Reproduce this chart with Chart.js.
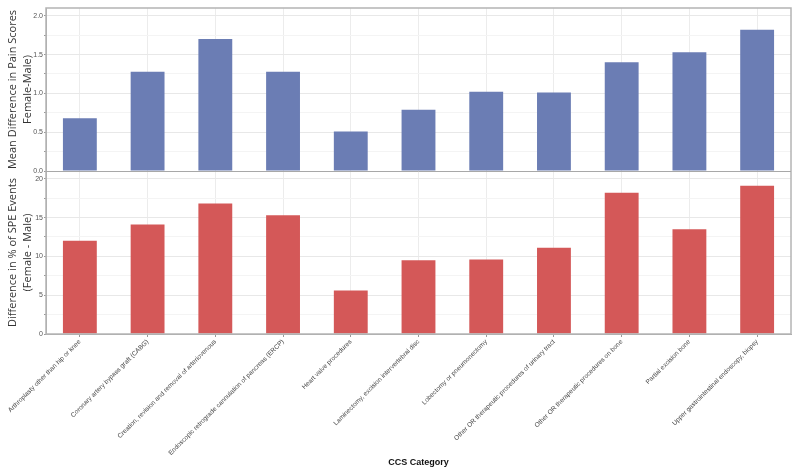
<!DOCTYPE html>
<html>
<head>
<meta charset="utf-8">
<script src="https://cdn.jsdelivr.net/npm/chart.js@4.4.1/dist/chart.umd.min.js"></script>
<style>
  html, body { margin: 0; padding: 0; background: #fff; }
  #wrap { width: 800px; height: 475px; }
</style>
</head>
<body>
<div id="wrap"><canvas id="myChart"></canvas></div>
<script>
// Data
const categories = [
  'Arthroplasty other than hip or knee',
  'Coronary artery bypass graft (CABG)',
  'Creation, revision and removal of arteriovenous',
  'Endoscopic retrograde cannulation of pancreas (ERCP)',
  'Heart valve procedures',
  'Laminectomy, excision intervertebral disc',
  'Lobectomy or pneumonectomy',
  'Other OR therapeutic procedures of urinary tract',
  'Other OR therapeutic procedures on bone',
  'Partial excision bone',
  'Upper gastrointestinal endoscopy, biopsy'
];
const painDiff = [0.68, 1.28, 1.70, 1.28, 0.51, 0.79, 1.02, 1.01, 1.40, 1.53, 1.82];
const speDiff = [12.0, 14.1, 16.8, 15.3, 5.6, 9.5, 9.6, 11.1, 18.2, 13.5, 19.1];
const painTicks = [0, 0.5, 1.0, 1.5, 2.0];
const speTicks = [0, 5, 10, 15, 20];

const tickFont = { family: 'Liberation Sans, Arial, sans-serif', size: 7 };
const titleFont = { family: 'Open Sans, sans-serif', size: 11, lineHeight: 1.3 };

function isMajor(list, v) {
  return list.some(t => Math.abs(t - v) < 1e-6);
}

// plot frame + divider between the two panels
const frame = {
  id: 'frame',
  afterDraw(chart) {
    const { ctx, chartArea: a, scales } = chart;
    ctx.save();
    ctx.strokeStyle = '#b4b4b4';
    ctx.lineWidth = 1.5;
    ctx.strokeRect(a.left, a.top, a.right - a.left, a.bottom - a.top);
    const y = Math.round(scales.yPain.bottom) + 0.5;
    ctx.lineWidth = 1;
    ctx.strokeStyle = '#a8a8a8';
    ctx.beginPath();
    ctx.moveTo(a.left, y);
    ctx.lineTo(a.right, y);
    ctx.stroke();
    ctx.restore();
  }
};

const ctx = document.getElementById('myChart');

new Chart(ctx, {
  type: 'bar',
  data: {
    labels: categories,
    datasets: [{
      label: 'Mean Difference in Pain Scores',
      data: painDiff,
      yAxisID: 'yPain',
      backgroundColor: '#6b7db4',
      grouped: false,
      barPercentage: 0.5,
      categoryPercentage: 1
    },
    {
      label: 'Difference in % of SPE Events',
      data: speDiff,
      yAxisID: 'ySpe',
      backgroundColor: '#d45858',
      grouped: false,
      barPercentage: 0.5,
      categoryPercentage: 1
    }]
  },
  options: {
    responsive: true,
    maintainAspectRatio: false,
    animation: false,
    layout: { padding: { top: 8, right: 9, left: 0, bottom: 0 } },
    plugins: {
      legend: { display: false },
      tooltip: { enabled: false }
    },
    scales: {
      x: {
        grid: { offset: false, color: '#ececec', tickLength: 3, tickColor: '#999' },
        border: { color: '#a8a8a8' },
        ticks: {
          autoSkip: false,
          minRotation: 45,
          maxRotation: 45,
          padding: 1,
          color: '#444',
          font: { family: 'Liberation Sans, Arial, sans-serif', size: 6.5 }
        },
        title: {
          display: true,
          text: 'CCS Category',
          color: '#111',
          padding: { top: 0, bottom: 7 },
          font: { family: 'Liberation Sans, Arial, sans-serif', size: 9, weight: 'bold' }
        },
        afterFit: s => { s.height = 141; }
      },
      ySpe: {
        position: 'left',
        stack: 'panes',
        stackWeight: 1,
        min: 0,
        max: 21,
        border: { color: '#a8a8a8' },
        grid: {
          tickLength: 2,
          tickColor: '#999',
          color: c => isMajor(speTicks, c.tick.value) ? '#e8e8e8' : '#f4f4f4'
        },
        ticks: {
          stepSize: 2.5,
          includeBounds: false,
          padding: 1,
          color: '#555',
          font: tickFont,
          callback: v => isMajor(speTicks, v) ? String(v) : ''
        },
        title: {
          display: true,
          text: ['Difference in % of SPE Events', '(Female - Male)'],
          color: '#333',
          padding: { top: 6, bottom: 0 },
          font: titleFont
        },
        afterFit: s => { s.width = 46; }
      },
      yPain: {
        position: 'left',
        stack: 'panes',
        stackWeight: 1,
        min: 0,
        max: 2.1,
        border: { color: '#a8a8a8' },
        grid: {
          tickLength: 2,
          tickColor: '#999',
          color: c => isMajor(painTicks, c.tick.value) ? '#e8e8e8' : '#f4f4f4'
        },
        ticks: {
          stepSize: 0.25,
          includeBounds: false,
          padding: 1,
          color: '#555',
          font: tickFont,
          callback: v => isMajor(painTicks, v) ? v.toFixed(1) : ''
        },
        title: {
          display: true,
          text: ['Mean Difference in Pain Scores', 'Female-Male)'],
          color: '#333',
          padding: { top: 6, bottom: 0 },
          font: titleFont
        },
        afterFit: s => { s.width = 46; }
      }
    }
  },
  plugins: [frame]
});
</script>
</body>
</html>
